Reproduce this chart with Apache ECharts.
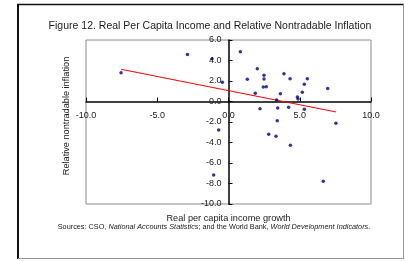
<!DOCTYPE html>
<html>
<head>
<meta charset="utf-8">
<script src="https://cdn.jsdelivr.net/npm/echarts@6/dist/echarts.min.js"></script>
<style>
html, body { margin: 0; padding: 0; background: #fff; }
#chart { width: 405px; height: 261px; }
</style>
</head>
<body>
<div id="chart"></div>
<script>
// income growth (x) and relative nontradable inflation (y), one entry per point
var incomeGrowth = [-7.54, -2.88, -1.16, -0.43, -0.69, -1.04, 0.83, 1.32, 2.02, 2.49, 2.49, 2.44, 2.65, 1.88,
	3.89, 4.32, 3.64, 3.38, 4.83, 4.88, 5.18, 5.32, 5.53, 6.96, 2.21, 3.45, 4.22, 5.32, 3.42, 7.54,
	2.82, 3.33, 4.34, 6.65];
var nontradInfl = [2.81, 4.58, 4.18, 1.87, -2.78, -7.17, 4.85, 2.16, 3.2, 2.55, 2.2, 1.41, 1.45, 0.8,
	2.71, 2.23, 0.76, 0.15, 0.44, 0.24, 0.9, 1.68, 2.23, 1.28, -0.7, -0.63, -0.57, -0.76, -1.87, -2.13,
	-3.2, -3.4, -4.27, -7.79];
// trend line end points
var trendX = [-7.54, 7.54];
var trendY = [3.14, -1.02];

var titleText = 'Figure 12. Real Per Capita Income and Relative Nontradable Inflation';
var xName = 'Real per capita income growth';
var yName = 'Relative nontradable inflation';

var points = incomeGrowth.map(function (x, i) { return [x, nontradInfl[i]]; });
var trend = trendX.map(function (x, i) { return [x, trendY[i]]; });

var font = 'Liberation Sans, Arial, sans-serif';

// grid box, axes cross at zero so they get pulled inside by offset
var gLeft = 86, gTop = 40, gW = 285, gH = 164;
var xMin = -10, xMax = 10, yMin = -10, yMax = 6;
var xOffset = -gH * (0 - yMin) / (yMax - yMin);   // x axis moved up to y = 0
var yOffset = -gW * (0 - xMin) / (xMax - xMin);   // y axis moved right to x = 0

var option = {
	animation: false,
	backgroundColor: '#fff',
	textStyle: { fontFamily: font },
	grid: {
		left: gLeft, top: gTop, width: gW, height: gH,
		show: true, borderColor: '#8a8a8a', borderWidth: 1
	},
	xAxis: {
		type: 'value', min: xMin, max: xMax, interval: 5,
		position: 'bottom', offset: xOffset,
		splitLine: { show: false },
		axisLine: { onZero: false, lineStyle: { color: '#000', width: 1.5 } },
		axisTick: { inside: true, length: 4, lineStyle: { color: '#000' } },
		axisLabel: {
			color: '#222', fontSize: 9, fontFamily: font, margin: 10,
			showMinLabel: true, showMaxLabel: true,
			formatter: function (v) { return v.toFixed(1); }
		}
	},
	yAxis: {
		type: 'value', min: yMin, max: yMax, interval: 2,
		position: 'left', offset: yOffset,
		splitLine: { show: false },
		axisLine: { onZero: false, lineStyle: { color: '#000', width: 1.5 } },
		axisTick: { inside: true, length: 4, lineStyle: { color: '#000' } },
		axisLabel: {
			color: '#222', fontSize: 9, fontFamily: font, margin: 7,
			showMinLabel: true, showMaxLabel: true,
			formatter: function (v) { return v.toFixed(1); }
		}
	},
	series: [{
		type: 'scatter',
		data: points,
		symbol: 'circle',
		symbolSize: 3.5,
		itemStyle: { color: '#000080' },
		z: 3
	}, {
		type: 'line',
		data: trend,
		showSymbol: false,
		lineStyle: { color: '#ff0000', width: 1 },
		z: 2
	}],
	graphic: [
		// outer frame
		{ type: 'line', shape: { x1: 18, y1: 4, x2: 18, y2: 259 }, style: { stroke: '#111', lineWidth: 2 } },
		{ type: 'line', shape: { x1: 17, y1: 4.5, x2: 404, y2: 4.5 }, style: { stroke: '#111', lineWidth: 1.5 } },
		{ type: 'line', shape: { x1: 403.5, y1: 4, x2: 403.5, y2: 259 }, style: { stroke: '#999', lineWidth: 1 } },
		{ type: 'line', shape: { x1: 18, y1: 258.5, x2: 404, y2: 258.5 }, style: { stroke: '#999', lineWidth: 1 } },
		{
			type: 'text', x: 210, y: 26,
			style: { text: titleText, font: '10.5px ' + font, fill: '#222', align: 'center', verticalAlign: 'middle' }
		},
		{
			type: 'text', x: 228.5, y: 218,
			style: { text: xName, font: '9.2px ' + font, fill: '#222', align: 'center', verticalAlign: 'middle' }
		},
		{
			type: 'text', x: 66, y: 116, rotation: Math.PI / 2,
			style: { text: yName, font: '9.2px ' + font, fill: '#222', align: 'center', verticalAlign: 'middle' }
		},
		{
			type: 'text', x: 214, y: 227,
			style: {
				text: '{n|Sources: CSO, }{i|National Accounts Statistics}{n|; and the World Bank, }{i|World Development Indicators}{n|.}',
				align: 'center', verticalAlign: 'middle',
				rich: {
					n: { fontSize: 7.3, fontFamily: font, fill: '#222' },
					i: { fontSize: 7.3, fontFamily: font, fontStyle: 'italic', fill: '#222' }
				}
			}
		}
	]
};

var chart = echarts.init(document.getElementById('chart'));
chart.setOption(option);
</script>
</body>
</html>
